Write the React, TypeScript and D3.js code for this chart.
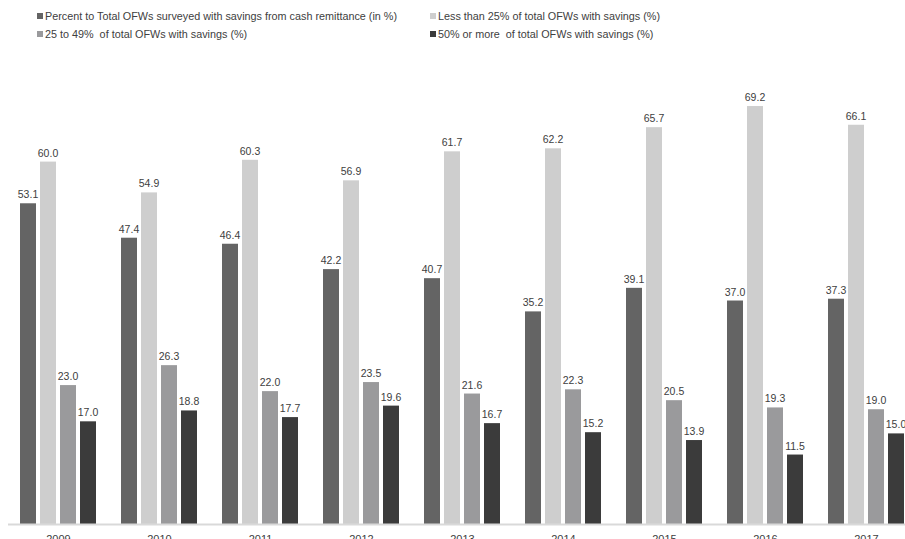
import React from "react";
import * as d3 from "d3";

const years = ["2009", "2010", "2011", "2012", "2013", "2014", "2015", "2016", "2017"];
const seriesNames = [
  "Percent to Total OFWs surveyed with savings from cash remittance (in %)",
  "Less than 25% of total OFWs with savings (%)",
  "25 to 49%  of total OFWs with savings (%)",
  "50% or more  of total OFWs with savings (%)",
];
const pctCash = [53.1, 47.4, 46.4, 42.2, 40.7, 35.2, 39.1, 37.0, 37.3];
const lessThan25 = [60.0, 54.9, 60.3, 56.9, 61.7, 62.2, 65.7, 69.2, 66.1];
const from25to49 = [23.0, 26.3, 22.0, 23.5, 21.6, 22.3, 20.5, 19.3, 19.0];
const over50 = [17.0, 18.8, 17.7, 19.6, 16.7, 15.2, 13.9, 11.5, 15.0];
const seriesValues = [pctCash, lessThan25, from25to49, over50];
const colors = ["#646464", "#cecece", "#9a9a9c", "#3b3b3b"];

const W = 905;
const H = 539;
const FONT = "'Liberation Sans', Arial, sans-serif";

export default function App() {
  const x0 = d3.scaleBand<string>().domain(years).range([8, 917]).paddingInner(0).paddingOuter(0);
  const x1 = d3
    .scaleBand<number>()
    .domain([0, 1, 2, 3])
    .range([12, 88])
    .paddingInner(0.2)
    .paddingOuter(0);
  const y = d3.scaleLinear().domain([0, 75]).range([524, 71]);

  const legendPos = [
    { x: 37, y: 16 },
    { x: 430, y: 16 },
    { x: 37, y: 34 },
    { x: 430, y: 34 },
  ];

  return (
    <svg
      width={W}
      height={H}
      style={{ position: "absolute", left: 0, top: 0, background: "#fff" }}
      fontFamily={FONT}
    >
      {legendPos.map((p, i) => (
        <g key={i}>
          <rect x={p.x} y={p.y - 3} width={6} height={6} fill={colors[i]} />
          <text x={p.x + 8} y={p.y} dy="0.35em" fontSize={10.8} fill="#404040" style={{ whiteSpace: "pre" }}>
            {seriesNames[i]}
          </text>
        </g>
      ))}
      {years.map((yr, gi) => (
        <g key={yr} transform={`translate(${x0(yr)},0)`}>
          {seriesValues.map((vals, si) => {
            const v = vals[gi];
            const bx = x1(si)!;
            return (
              <g key={si}>
                <rect
                  x={bx}
                  y={y(v)}
                  width={x1.bandwidth()}
                  height={y(0) - y(v)}
                  fill={colors[si]}
                />
                <text
                  x={bx + x1.bandwidth() / 2}
                  y={y(v) - 5}
                  textAnchor="middle"
                  fontSize={10.5}
                  fill="#404040"
                >
                  {v.toFixed(1)}
                </text>
              </g>
            );
          })}
          <text
            x={x0.bandwidth() / 2}
            y={543}
            textAnchor="middle"
            fontSize={11}
            fill="#404040"
          >
            {yr}
          </text>
        </g>
      ))}
      <line x1={8} x2={W} y1={y(0) + 0.5} y2={y(0) + 0.5} stroke="#d9d9d9" strokeWidth={2} />
    </svg>
  );
}
